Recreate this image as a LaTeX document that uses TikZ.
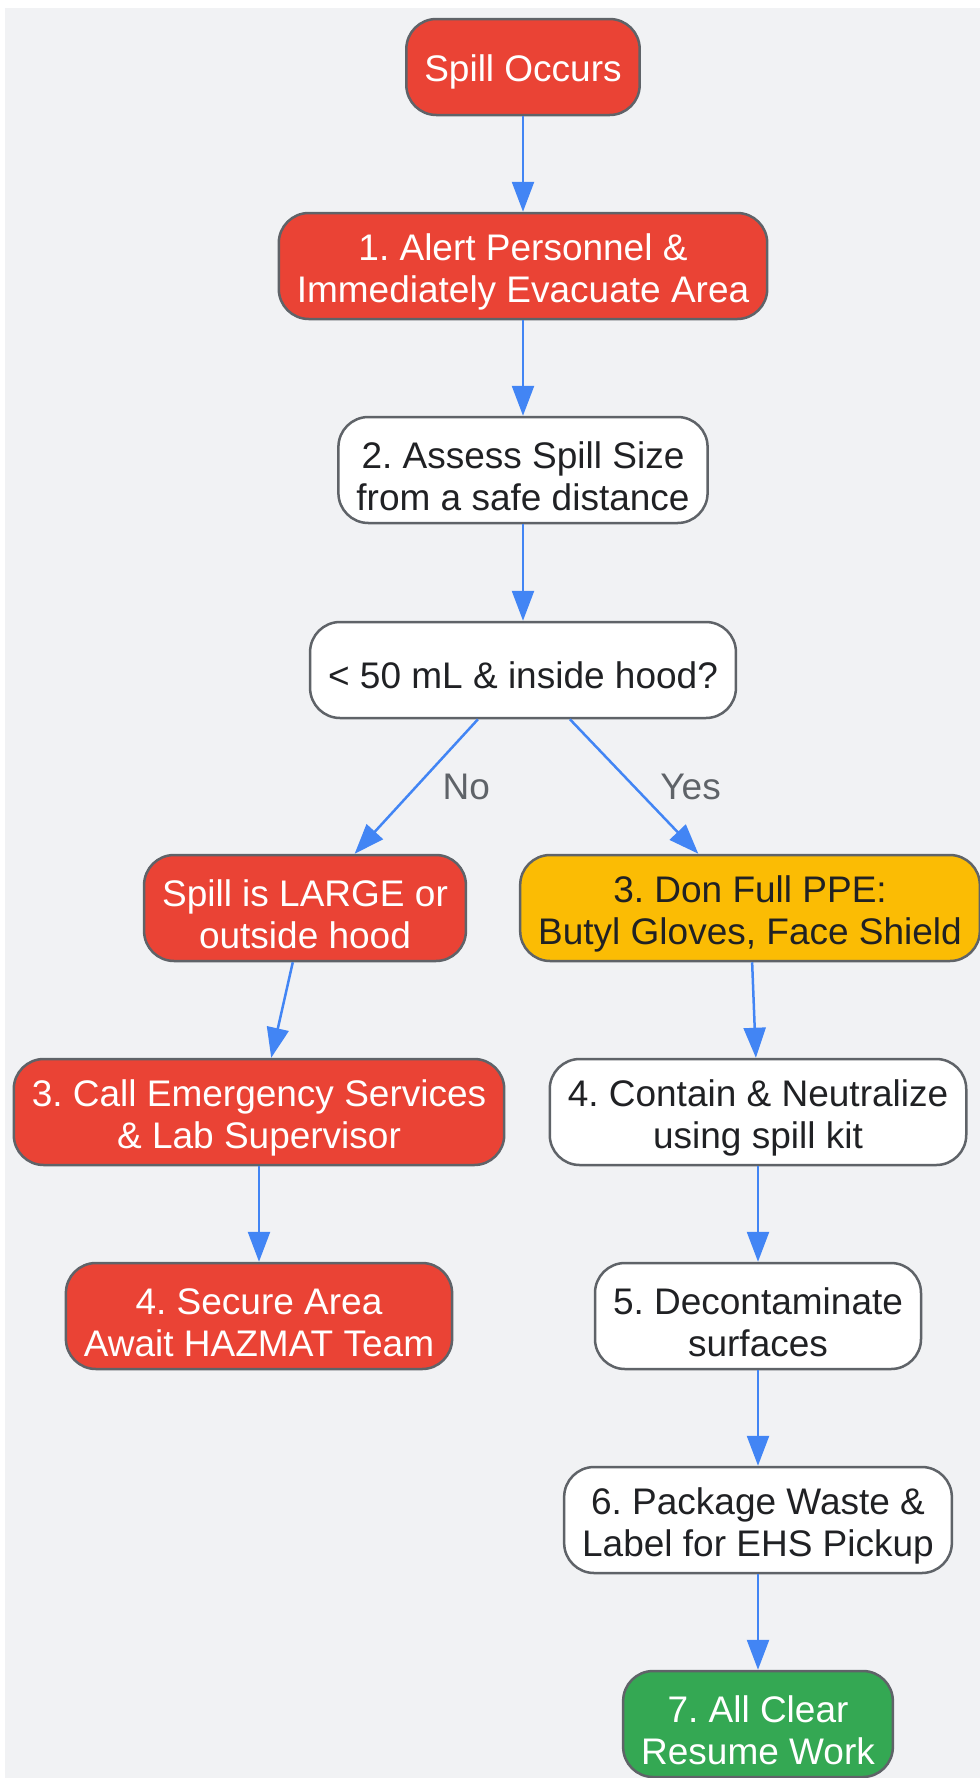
\documentclass[tikz,border=0pt]{standalone}
\usepackage{fontspec}
\setmainfont{Liberation Sans}
\usepackage{tikz}
\usetikzlibrary{arrows.meta}
\frenchspacing

\definecolor{bgc}{HTML}{F1F2F4}
\definecolor{edgec}{HTML}{5F6368}
\definecolor{arrc}{HTML}{4285F4}
\definecolor{alertc}{HTML}{EA4335}
\definecolor{warnc}{HTML}{FBBC04}
\definecolor{okc}{HTML}{34A853}
\definecolor{txtc}{HTML}{202124}

\begin{document}
\begin{tikzpicture}[x=1pt,y=-1pt,>={Triangle[length=30pt,width=22pt]},
        box/.style={draw=edgec,line width=2.5pt,rounded corners=30pt,align=center,
            inner xsep=18pt,inner ysep=0pt,minimum height=106pt,
            font=\fontsize{37}{42}\selectfont,text=txtc,fill=white},
        single/.style={box,minimum height=96pt,execute at begin node=\rule{0pt}{37pt}},
        double/.style={box,execute at begin node=\rule{0pt}{81pt}},
        danger/.style={fill=alertc,text=white},
        caution/.style={fill=warnc},
        safe/.style={fill=okc,text=white},
        flow/.style={->,color=arrc,line width=2.5pt},
        lbl/.style={midway,anchor=west,xshift=25pt,inner sep=0pt,text=edgec,
            font=\fontsize{37}{42}\selectfont}]
        \useasboundingbox (0,0) rectangle (980,1778);
        \fill[white] (0,0) rectangle (980,1778);
        \fill[bgc] (5,8) rectangle (980,1778);

        \node[single,danger] (spill) at (523,67) {Spill Occurs};
        \node[double,danger] (alert) at (523,266) {1. Alert Personnel \&\\Immediately Evacuate Area};
        \node[double] (assess) at (523,470) {2. Assess Spill Size\\from a safe distance};
        \node[single] (small) at (523,670) {< 50 mL \& inside hood?};
        \node[double,danger] (large) at (305,908) {Spill is LARGE or\\outside hood};
        \node[double,caution] (ppe) at (750,908) {3. Don Full PPE:\\Butyl Gloves, Face Shield};
        \node[double,danger] (call) at (259,1112) {3. Call Emergency Services\\\& Lab Supervisor};
        \node[double,danger] (secure) at (259,1316) {4. Secure Area\\Await HAZMAT Team};
        \node[double] (contain) at (758,1112) {4. Contain \& Neutralize\\using spill kit};
        \node[double] (decon) at (758,1316) {5. Decontaminate\\surfaces};
        \node[double] (package) at (758,1520) {6. Package Waste \&\\Label for EHS Pickup};
        \node[double,safe] (clear) at (758,1724) {7. All Clear\\Resume Work};

        \path[flow] (spill) edge (alert)
                    (alert) edge (assess)
                    (assess) edge (small)
                    (small) edge node[lbl] {No} (large)
                            edge node[lbl] {Yes} (ppe)
                    (large) edge (call)
                    (call) edge (secure)
                    (ppe) edge (contain)
                    (contain) edge (decon)
                    (decon) edge (package)
                    (package) edge (clear);
\end{tikzpicture}
\end{document}
